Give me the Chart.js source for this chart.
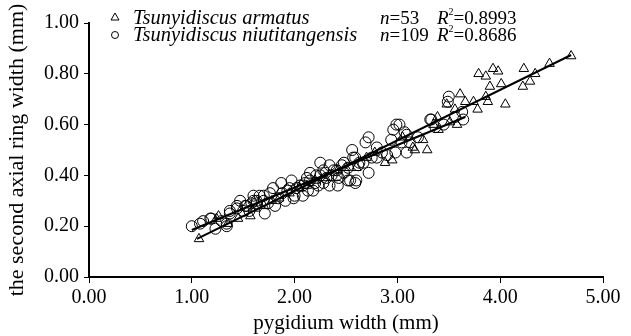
<!DOCTYPE html>
<html>
<head>
<meta charset="utf-8">
<script src="https://cdn.jsdelivr.net/npm/chart.js@4"></script>
<style>
  body { margin: 0; background: #fff; }
  #wrap { width: 631px; height: 336px; }
</style>
</head>
<body>
<div id="wrap"><canvas id="chart-area" width="631" height="336"></canvas></div>
<script>
// Tsunyidiscus armatus (triangles), pygidium width / second axial ring width
var armatusX = [1.07, 1.24, 1.26, 1.35, 1.45, 1.57, 1.62, 1.70, 1.78, 1.85, 1.95, 2.05, 2.12, 2.20, 2.30,
    2.42, 2.50, 2.60, 2.70, 2.78, 2.88, 2.95, 3.05, 3.15, 3.17, 3.25, 3.29, 3.35, 3.39, 3.40,
    3.48, 3.51, 3.56, 3.58, 3.61, 3.66, 3.74, 3.78, 3.79, 3.86, 3.86, 3.88, 3.90, 3.93, 3.98,
    4.01, 4.05, 4.22, 4.23, 4.29, 4.34, 4.48, 4.69];
var armatusY = [0.15, 0.23, 0.24, 0.21, 0.23, 0.24, 0.27, 0.28, 0.30, 0.31, 0.33, 0.35, 0.36, 0.38, 0.39,
    0.42, 0.43, 0.43, 0.47, 0.49, 0.45, 0.46, 0.55, 0.51, 0.50, 0.54, 0.50, 0.60, 0.63, 0.58,
    0.68, 0.61, 0.66, 0.60, 0.72, 0.69, 0.69, 0.66, 0.80, 0.79, 0.71, 0.69, 0.75, 0.82, 0.81,
    0.76, 0.68, 0.75, 0.82, 0.77, 0.80, 0.84, 0.87];

// Tsunyidiscus niutitangensis (circles)
var niutiX = [1.00, 1.08, 1.11, 1.18, 1.19, 1.23, 1.29, 1.34, 1.34, 1.37, 1.37, 1.44, 1.44, 1.47, 1.50,
    1.52, 1.53, 1.56, 1.58, 1.60, 1.60, 1.63, 1.63, 1.66, 1.70, 1.70, 1.71, 1.74, 1.76, 1.79,
    1.81, 1.84, 1.87, 1.88, 1.91, 1.93, 1.95, 1.97, 1.99, 2.00, 2.02, 2.05, 2.08, 2.08, 2.10,
    2.12, 2.13, 2.15, 2.15, 2.18, 2.20, 2.21, 2.23, 2.25, 2.25, 2.28, 2.28, 2.30, 2.31, 2.34,
    2.34, 2.36, 2.38, 2.41, 2.41, 2.42, 2.43, 2.46, 2.48, 2.48, 2.52, 2.52, 2.54, 2.56, 2.57,
    2.59, 2.59, 2.60, 2.62, 2.63, 2.67, 2.69, 2.72, 2.72, 2.75, 2.80, 2.80, 2.85, 2.90, 2.94,
    2.96, 2.98, 2.99, 3.02, 3.04, 3.07, 3.09, 3.09, 3.12, 3.20, 3.32, 3.33, 3.37, 3.45, 3.49,
    3.50, 3.56, 3.63, 3.64];
var niutiY = [0.20, 0.21, 0.22, 0.23, 0.23, 0.19, 0.22, 0.20, 0.21, 0.26, 0.25, 0.27, 0.28, 0.30, 0.26,
    0.28, 0.28, 0.26, 0.29, 0.32, 0.30, 0.30, 0.29, 0.32, 0.32, 0.30, 0.25, 0.29, 0.33, 0.35,
    0.28, 0.31, 0.37, 0.33, 0.30, 0.34, 0.35, 0.38, 0.31, 0.32, 0.35, 0.36, 0.32, 0.36, 0.37,
    0.39, 0.34, 0.38, 0.41, 0.34, 0.37, 0.40, 0.36, 0.45, 0.40, 0.37, 0.42, 0.41, 0.39, 0.44,
    0.36, 0.40, 0.42, 0.40, 0.42, 0.36, 0.39, 0.44, 0.41, 0.45, 0.43, 0.38, 0.38, 0.50, 0.47,
    0.47, 0.37, 0.38, 0.44, 0.45, 0.45, 0.53, 0.55, 0.41, 0.47, 0.47, 0.51, 0.49, 0.48, 0.54,
    0.58, 0.49, 0.60, 0.60, 0.53, 0.57, 0.56, 0.49, 0.53, 0.55, 0.62, 0.62, 0.59, 0.60, 0.69,
    0.71, 0.63, 0.65, 0.62];

// fitted lines (end points)
var fitArmatusX = [1.05, 4.69];
var fitArmatusY = [0.150, 0.874];
var fitNiutiX = [1.00, 3.66];
var fitNiutiY = [0.185, 0.630];

var xTicks = [0, 1, 2, 3, 4, 5];
var yTicks = [0, 0.2, 0.4, 0.6, 0.8, 1.0];

var legendNames = ['Tsunyidiscus armatus', 'Tsunyidiscus niutitangensis'];
var legendN = ['53', '109'];
var legendR2 = ['0.8993', '0.8686'];

function pts(xs, ys) {
    var out = [];
    for (var i = 0; i < xs.length; i++) out.push({x: xs[i], y: ys[i]});
    return out;
}

var serif = '"Liberation Serif", "Times New Roman", serif';

var legendPlugin = {
    id: 'figLegend',
    afterDraw: function(chart) {
        var ctx = chart.ctx;
        ctx.save();
        ctx.strokeStyle = '#000';
        ctx.fillStyle = '#000';
        ctx.lineWidth = 1;
        // triangle marker
        ctx.beginPath();
        ctx.moveTo(115, 13);
        ctx.lineTo(119, 20);
        ctx.lineTo(111, 20);
        ctx.closePath();
        ctx.stroke();
        // circle marker
        ctx.beginPath();
        ctx.arc(115, 35, 3.5, 0, Math.PI * 2);
        ctx.stroke();

        var rows = [24, 41];
        for (var i = 0; i < 2; i++) {
            var y = rows[i];
            ctx.textBaseline = 'alphabetic';
            ctx.textAlign = 'left';
            ctx.font = 'italic 20.5px ' + serif;
            ctx.fillText(legendNames[i], 133, y);

            var x = 380;
            ctx.font = 'italic 19px ' + serif;
            ctx.fillText('n', x, y);
            x += ctx.measureText('n').width;
            ctx.font = '19px ' + serif;
            ctx.fillText('=' + legendN[i], x, y);

            x = 437;
            ctx.font = 'italic 19px ' + serif;
            ctx.fillText('R', x, y);
            x += ctx.measureText('R').width;
            ctx.font = '10px ' + serif;
            ctx.fillText('2', x, y - 9);
            x += ctx.measureText('2').width;
            ctx.font = '19px ' + serif;
            ctx.fillText('=' + legendR2[i], x, y);
        }
        ctx.restore();
    }
};

var config = {
    type: 'scatter',
    data: {
        datasets: [{
            label: legendNames[0],
            data: pts(armatusX, armatusY),
            pointStyle: 'triangle',
            pointRadius: 5.5,
            borderColor: '#000',
            backgroundColor: 'rgba(0,0,0,0)',
            borderWidth: 1,
            order: 2
        }, {
            label: legendNames[1],
            data: pts(niutiX, niutiY),
            pointStyle: 'circle',
            pointRadius: 5.5,
            borderColor: '#000',
            backgroundColor: 'rgba(0,0,0,0)',
            borderWidth: 1,
            order: 3
        }, {
            type: 'line',
            label: 'fit armatus',
            data: pts(fitArmatusX, fitArmatusY),
            borderColor: '#000',
            borderWidth: 2,
            pointRadius: 0,
            fill: false,
            order: 1
        }, {
            type: 'line',
            label: 'fit niutitangensis',
            data: pts(fitNiutiX, fitNiutiY),
            borderColor: '#000',
            borderWidth: 2,
            pointRadius: 0,
            fill: false,
            order: 1
        }]
    },
    options: {
        responsive: false,
        animation: false,
        layout: { padding: { top: 23, right: 28, left: 0, bottom: 0 } },
        plugins: {
            legend: { display: false },
            tooltip: { enabled: false }
        },
        scales: {
            x: {
                type: 'linear',
                min: 0, max: 5,
                afterBuildTicks: function(scale) {
                    scale.ticks = xTicks.map(function(v) { return {value: v}; });
                },
                afterFit: function(scale) { scale.height = 59; },
                ticks: {
                    color: '#000',
                    padding: 3,
                    font: { family: serif, size: 20 },
                    callback: function(v) { return v.toFixed(2); }
                },
                grid: { display: true, drawOnChartArea: false, drawTicks: true, tickLength: 6, color: '#000', lineWidth: 1 },
                border: { display: true, color: '#000', width: 2 },
                title: {
                    display: true,
                    text: 'pygidium width (mm)',
                    color: '#000',
                    font: { family: serif, size: 21 },
                    padding: { top: 0, bottom: 0 }
                }
            },
            y: {
                type: 'linear',
                min: 0, max: 1,
                afterBuildTicks: function(scale) {
                    scale.ticks = yTicks.map(function(v) { return {value: v}; });
                },
                afterFit: function(scale) { scale.width = 89; },
                ticks: {
                    color: '#000',
                    padding: 5,
                    font: { family: serif, size: 20 },
                    callback: function(v) { return v.toFixed(2); }
                },
                grid: { display: true, drawOnChartArea: false, drawTicks: true, tickLength: 5, color: '#000', lineWidth: 1 },
                border: { display: true, color: '#000', width: 2 },
                title: {
                    display: true,
                    text: 'the second axial ring width (mm)',
                    color: '#000',
                    font: { family: serif, size: 22 },
                    padding: { top: 4, bottom: 0 }
                }
            }
        }
    },
    plugins: [legendPlugin]
};

var canvas = document.getElementById('chart-area');
var chart = new Chart(canvas, config);
</script>
</body>
</html>
